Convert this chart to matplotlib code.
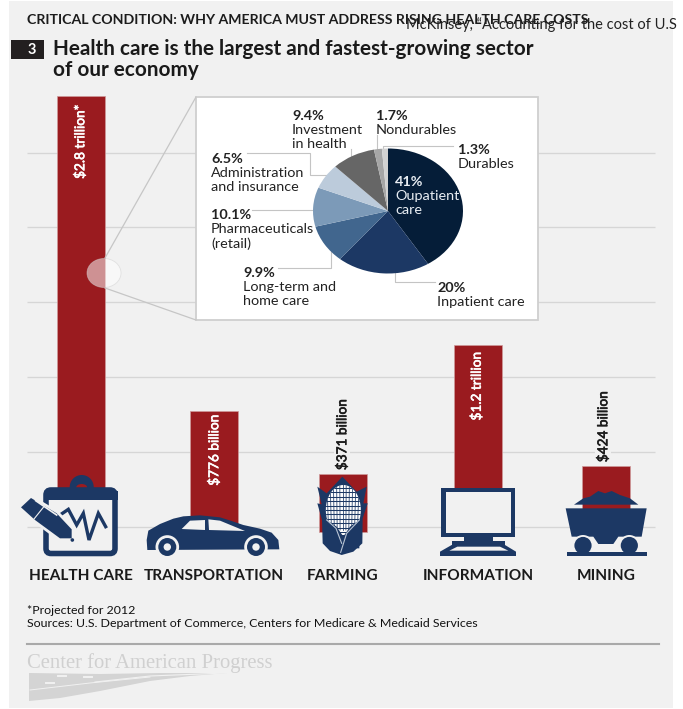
import matplotlib
matplotlib.use("Agg")
import matplotlib.pyplot as plt
import matplotlib.patheffects as pe
from matplotlib.patches import Rectangle, Polygon, Ellipse, Circle, FancyBboxPatch
from matplotlib.font_manager import FontProperties
from matplotlib.textpath import TextPath

# Sector spending, billions of dollars
sectors = ["HEALTH CARE", "TRANSPORTATION", "FARMING", "INFORMATION", "MINING"]
spending = [2800, 776, 371, 1200, 424]
spending_labels = ["$2.8 trillion*", "$776 billion", "$371 billion", "$1.2 trillion", "$424 billion"]

# Breakdown of health care spending, percent
shares = [41, 20, 9.9, 10.1, 6.5, 9.4, 1.7, 1.3]
share_colors = ["#051d38", "#1c3864", "#41668e", "#7c9ab8", "#bccbdb", "#666666", "#a6a6a6", "#d2d2d2"]

# Layout, in pixels
W, H = 683, 709
bar_centers = [81, 214, 342.5, 478, 606]
bar_width = 48
baseline_px = 532
px_per_billion = 0.1557
grid_rows = [152.5, 227, 302, 377, 452, 527]

BG = "#f1f1f1"
NAVY = "#1c3864"
RED = "#9a1b1f"
INK = "#1c1c1c"
SANS = "Lato"

fig = plt.figure(figsize=(W / 100, H / 100), dpi=100, facecolor="white")


def layer(z):
    a = fig.add_axes([0, 0, 1, 1], zorder=z)
    a.set_xlim(0, W)
    a.set_ylim(H, 0)
    a.axis("off")
    a.patch.set_alpha(0)
    return a


def fitted(s, width_px, family=SANS, weight="normal"):
    """Font size in points at which s runs width_px pixels long."""
    ext = TextPath((0, 0), s, size=10, prop=FontProperties(family=family, weight=weight)).get_extents()
    return 10 * (width_px * 0.72) / ext.width


# Backdrop and grid
back = layer(0)
back.add_patch(Rectangle((9, 1), 664, 707, fc=BG, ec="none"))
back.hlines(grid_rows, 27, 655, color="#d6d6d6", lw=0.95)

# Bars share the pixel frame horizontally and use dollars vertically
bars = fig.add_axes([0, 0, 1, 1], zorder=1)
bars.set_xlim(0, W)
bars.set_ylim(-(H - baseline_px) / px_per_billion, baseline_px / px_per_billion)
bars.axis("off")
bars.patch.set_alpha(0)
bars.bar(bar_centers, spending, width=bar_width, color=RED, edgecolor="#cf9a9b", linewidth=0.5)

front = layer(2)


def txt(x, y, s, size, color=INK, weight="normal", ha="left", family=SANS, **kw):
    return front.text(x, y + 1, s, fontsize=size, color=color, weight=weight, ha=ha, va="center",
                      family=family, **kw)


# Header
header = "CRITICAL CONDITION: WHY AMERICA MUST ADDRESS RISING HEALTH CARE COSTS"
txt(27, 18.5, header, fitted(header, 563, weight="bold"), weight="bold")
clip = Rectangle((0, 0), 675, H, transform=front.transData)
cite = "McKinsey, \u201cAccounting for the cost of U.S"
txt(406, 24, cite, fitted(cite, 268), color="#222222").set_clip_path(clip)
front.add_patch(Rectangle((11, 40), 33, 19, fc="#231f20", ec="none"))
txt(32, 48.5, "3", 10.5, color="white", weight="bold", ha="center")
headline = "Health care is the largest and fastest-growing sector"
headline_size = fitted(headline, 479, weight="bold")
txt(53, 48, headline, headline_size, color="#1a1a1a", weight="bold")
txt(53, 69, "of our economy", headline_size, color="#1a1a1a", weight="bold")

# Magnifier: lens on the health care bar and lines out to the inset
front.plot([105, 196], [258, 97], color="#c6c6c6", lw=0.9)
front.plot([105, 196], [288, 320], color="#c6c6c6", lw=0.9)
front.add_patch(Ellipse((104, 273), 34, 29, fc="white", alpha=0.52, ec="#cfcfcf", lw=0.6))
front.add_patch(Rectangle((196, 96.5), 342, 223.5, fc="white", ec="#cfcfcf", lw=1.3))

# Leader lines inside the inset
leaders = [
    ([383, 383, 453], [150, 146, 146]),
    ([377, 377], [135, 150]),
    ([351, 351], [149, 162]),
    ([247, 310, 310, 330], [153, 153, 175, 175]),
    ([252, 315], [210, 210]),
    ([278, 331, 331], [268, 268, 242]),
    ([395, 395, 435], [270, 282, 282]),
]
for lx, ly in leaders:
    front.plot(lx, ly, color="#c4c4c4", lw=0.8)

# Inset pie; the axes box is wider than tall so the pie is an ellipse
pie_ax = fig.add_axes([313 / W, 1 - 273.5 / H, 150 / W, 125 / H], zorder=3)
pie_ax.pie(shares, colors=share_colors, startangle=90, counterclock=False, radius=1,
           wedgeprops=dict(linewidth=0))
pie_ax.set_aspect("auto")
pie_ax.set_xlim(-1, 1)
pie_ax.set_ylim(-1, 1)

labels_layer = layer(4)
note_size = fitted("Pharmaceuticals", 101)


def pie_note(x, y0, lines, color="#222222"):
    for i, s in enumerate(lines):
        labels_layer.text(x, y0 + 1 + i * 14.2, s, fontsize=note_size, color=color, va="center", family=SANS,
                          weight="bold" if i == 0 else "normal")


pie_note(292, 115, ["9.4%", "Investment", "in health"])
pie_note(376, 115, ["1.7%", "Nondurables"])
pie_note(458, 149, ["1.3%", "Durables"])
pie_note(211, 158, ["6.5%", "Administration", "and insurance"])
pie_note(211, 214, ["10.1%", "Pharmaceuticals", "(retail)"])
pie_note(243, 272, ["9.9%", "Long-term and", "home care"])
pie_note(437, 287, ["20%", "Inpatient care"])
pie_note(395, 181, ["41%", "Oupatient", "care"], color="#e8edf3")

# Dollar labels on and above the bars, thickened with a hairline stroke
value_size = fitted("$1.2 trillion", 67)
rot = dict(rotation=90, family=SANS, size=value_size, ha="center", va="center")
label_rows = [
    (0, 80, 141.5, "white", None),
    (1, 214, 450, "white", None),
    (2, 342, 434.5, INK, BG),
    (3, 476.5, 386, "white", None),
    (4, 603, 426.5, INK, BG),
]
for i, xc, yc, col, box in label_rows:
    t = front.text(xc, yc, spending_labels[i], color=col, **rot)
    t.set_path_effects([pe.withStroke(linewidth=0.45, foreground=col)])
    if box:
        t.set_bbox(dict(fc=box, ec="none", pad=1.5))

# Sector names
name_size = fitted("TRANSPORTATION", 139, weight="bold")
for cx, name in zip(bar_centers, sectors):
    txt(cx, 575, name, name_size, weight="bold", ha="center", color="#1a1a1a")

# Footer
source = "Sources: U.S. Department of Commerce, Centers for Medicare & Medicaid Services"
source_size = fitted(source, 450)
txt(27, 609, "*Projected for 2012", source_size, color="#111111")
txt(27, 622.5, source, source_size, color="#111111")
front.plot([27, 659], [643.5, 643.5], color="#a9a9a9", lw=1.5)
org = "Center for American Progress"
txt(27, 662, org, fitted(org, 245, family="Liberation Serif"), color="#d0d0d0", family="Liberation Serif")
front.add_patch(Polygon([(29, 673), (100, 674), (160, 673), (227, 673), (190, 676), (150, 681),
                         (100, 691), (60, 698), (29, 701)], fc="#d4d4d4", ec="none"))
front.plot([95, 150, 226], [682, 676, 673], color=BG, lw=0.8)
front.plot([30, 90, 150], [690, 683, 677], color=BG, lw=0.7)
for sx, sy in [(62, 676), (88, 677), (50, 683)]:
    front.plot([sx - 4, sx + 4], [sy, sy], color=BG, lw=1.4)


def poly(pts, fc=NAVY, ec="none", lw=0, z=3):
    p = Polygon(pts, closed=True, fc=fc, ec=ec, lw=lw, zorder=z, joinstyle="round")
    front.add_patch(p)
    return p


# Clipboard and pen
zc = lambda x, y: (15 + x / 3, 470 + y / 3)
front.add_patch(Circle((81.7, 487), 12, fc=NAVY, ec="none", zorder=3))
front.add_patch(Ellipse((81.7, 487.5), 11, 7, fc=RED, ec="none", zorder=3))
front.add_patch(FancyBboxPatch((46, 490), 69, 63.5, boxstyle="round,pad=0,rounding_size=5",
                               fc=BG, ec=NAVY, lw=4, zorder=3))
front.add_patch(Rectangle((44, 491), 73.5, 9, fc=NAVY, ec="none", zorder=3))
front.plot(*zip(*[zc(135, 135), zc(160, 118), zc(185, 165), zc(205, 130), zc(222, 210), zc(250, 130), zc(272, 170)]),
           color=NAVY, lw=2.4, solid_joinstyle="miter", zorder=3.1)
pen = [zc(18, 112), zc(48, 84), zc(125, 130), zc(170, 178), zc(170, 205), zc(135, 205), zc(60, 150)]
poly(pen, fc=BG, ec=BG, lw=4, z=3.2)
poly(pen, z=3.3)
front.plot(*zip(*[zc(62, 92), zc(125, 135)]), color=BG, lw=1.2, zorder=3.4)
front.plot(*zip(*[zc(57, 147), zc(85, 112)]), color=BG, lw=0.8, zorder=3.4)
front.add_patch(Circle(zc(172, 210), 1.8, fc=NAVY, ec="none", zorder=3.3))

# Car
zv = lambda x, y: (140 + x / 3, 500 + y / 3)
poly([zv(*q) for q in [(22, 150), (20, 120), (25, 92), (60, 72), (100, 56), (130, 49), (180, 46), (240, 52),
                       (275, 63), (310, 75), (360, 86), (395, 98), (415, 120), (418, 148)]], z=3)
poly([zv(*q) for q in [(125, 87), (150, 62), (195, 60), (195, 90)]], fc=BG, z=3.1)
poly([zv(*q) for q in [(205, 58), (240, 62), (315, 93), (207, 90)]], fc=BG, z=3.1)
for wx in (167.3, 256):
    front.add_patch(Circle((wx, 547), 11.8, fc=BG, ec="none", zorder=3.1))
    front.add_patch(Circle((wx, 547), 9, fc=NAVY, ec="none", zorder=3.2))
    front.add_patch(Circle((wx, 547), 3.7, fc=BG, ec="none", zorder=3.3))

# Corn cob in its husk
zr = lambda x, y: (300 + x / 3, 465 + y / 3)
poly([zr(*q) for q in [(52, 65), (80, 85), (127, 35), (170, 80), (200, 65), (190, 115), (203, 115),
                       (188, 160), (187, 235), (160, 260), (125, 270), (90, 258), (68, 235),
                       (66, 165), (52, 115), (65, 118)]], z=3)
front.add_patch(Ellipse(zr(130, 135), 35, 50, fc="white", ec="none", zorder=3.1))
cob_clip = Ellipse(zr(130, 135), 35, 50, transform=front.transData)
for k in range(-5, 6):
    ln, = front.plot([343 + k * 3.3, 343 + k * 2.9], [465, 530], color=NAVY, lw=0.55, zorder=3.2)
    ln.set_clip_path(cob_clip)
    ln, = front.plot([320, 365], [510 + k * 4.4, 510 + k * 4.4], color=NAVY, lw=0.75, zorder=3.2)
    ln.set_clip_path(cob_clip)
poly([zr(*q) for q in [(80, 165), (110, 185), (130, 215), (150, 185), (178, 165), (178, 250), (85, 250)]], z=3.3)
front.plot(*zip(*[zr(80, 165), zr(108, 190), zr(125, 235)]), color="#b8c4d4", lw=0.8, zorder=3.4)
front.plot(*zip(*[zr(178, 165), zr(140, 205), zr(122, 262)]), color="#b8c4d4", lw=0.8, zorder=3.4)

# Computer
zm = lambda x, y: (340 + x / 3, 340 + y / 3)
poly([zm(*q) for q in [(303, 443), (525, 443), (525, 592), (303, 592)]])
poly([zm(*q) for q in [(318, 455), (512, 455), (512, 580), (318, 580)]], fc=BG, z=3.1)
poly([zm(*q) for q in [(372, 592), (458, 592), (458, 602), (495, 602), (495, 615), (335, 615), (335, 602), (372, 602)]])
poly([zm(*q) for q in [(300, 635), (335, 615), (495, 615), (528, 635), (528, 648), (300, 648)]])
poly([zm(*q) for q in [(328, 632), (352, 620), (480, 620), (505, 632)]], fc=BG, z=3.1)

# Mine cart
poly([zm(*q) for q in [(702, 494), (730, 475), (750, 470), (775, 453), (795, 460), (815, 453),
                       (840, 465), (870, 475), (895, 494)]])
poly([zm(*q) for q in [(677, 505), (920, 505), (905, 590), (835, 590), (820, 612), (775, 612),
                       (760, 590), (695, 590)]])
for wx in zm(729, 0)[0], zm(868, 0)[0]:
    front.add_patch(Circle((wx, 545.5), 10.5, fc=BG, ec="none", zorder=3.1))
    front.add_patch(Circle((wx, 545.5), 8.6, fc=NAVY, ec="none", zorder=3.2))
poly([zm(*q) for q in [(680, 637), (920, 637), (920, 648), (680, 648)]], z=3.3)

fig.savefig("out.png", dpi=100, facecolor="white")
